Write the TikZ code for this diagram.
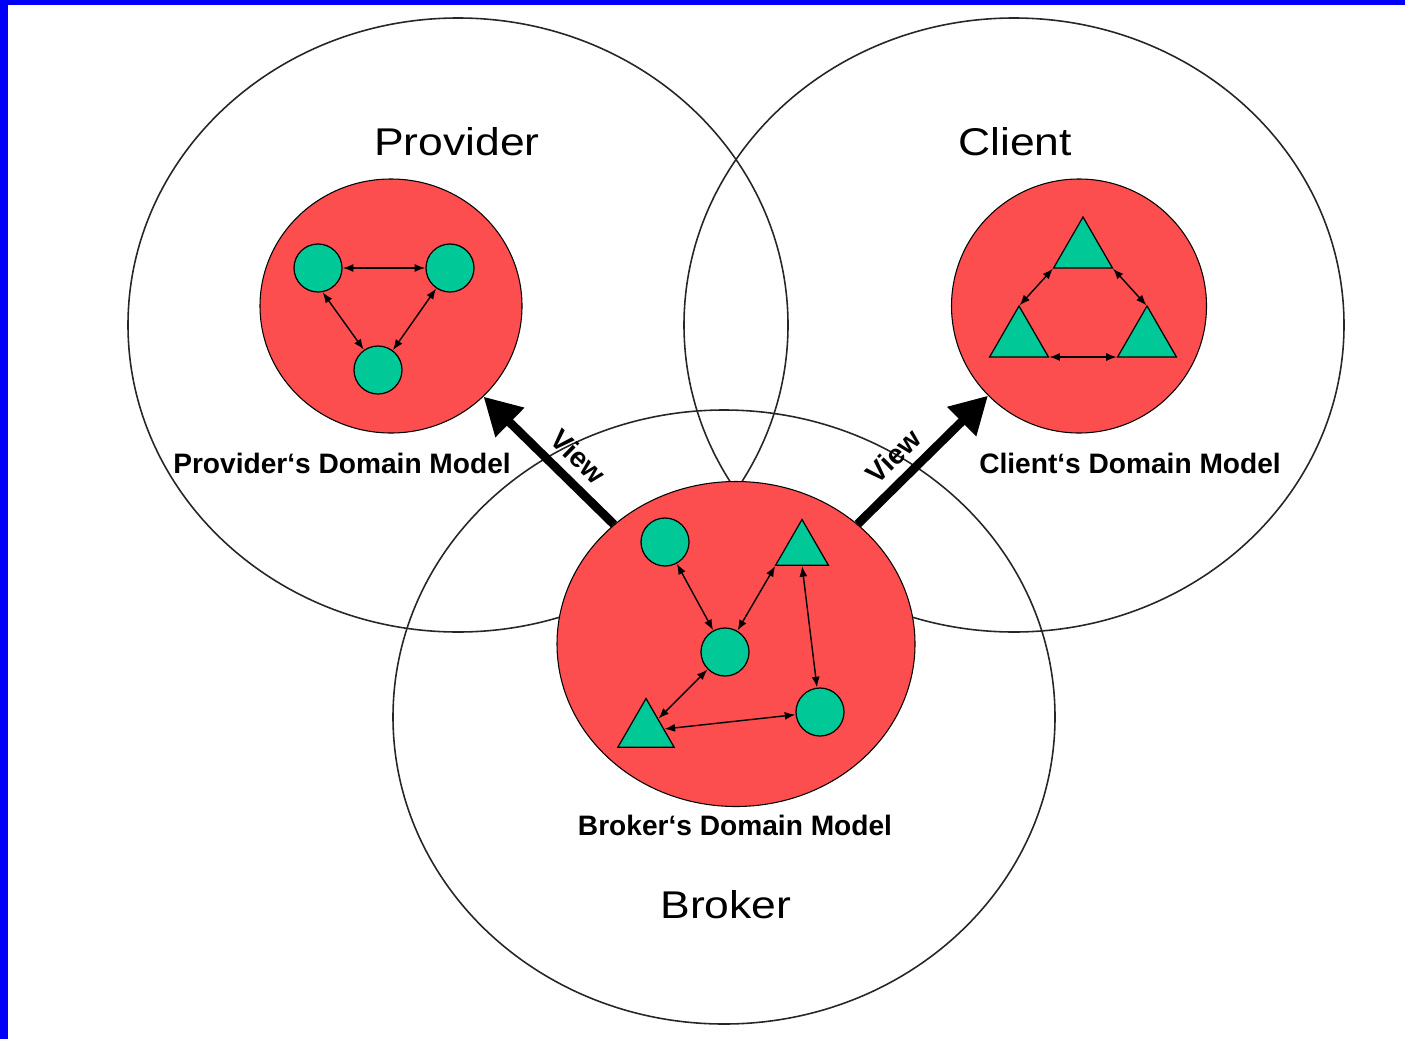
\documentclass[tikz,border=0pt]{standalone}
\usepackage{fontspec}
\setmainfont{Liberation Sans}
\usetikzlibrary{shapes.geometric}
\usetikzlibrary{arrows.meta}

\definecolor{DomRed}{RGB}{252,78,78}
\definecolor{ObjGreen}{RGB}{0,200,150}
\definecolor{FrameBlue}{RGB}{0,0,250}

\begin{document}
\begin{tikzpicture}[x=0.2mm,y=-0.2mm,
  dommodel/.style={ellipse,draw=black,line width=0.6pt,fill=DomRed,inner sep=0pt},
  obj/.style={circle,draw=black,line width=0.7pt,fill=ObjGreen,minimum size=0.96cm,inner sep=0pt,outer sep=0pt},
  tri/.style={regular polygon,regular polygon sides=3,draw=black,line width=0.7pt,fill=ObjGreen,inner sep=0pt,outer sep=0pt},
  rel/.style={{Latex[length=6pt,width=4.6pt]}-{Latex[length=6pt,width=4.6pt]},line width=0.8pt,shorten <=0.5pt,shorten >=0.5pt},
  viewarrow/.style={-{Triangle[length=0.74cm,width=0.78cm]},line width=5pt},
  vlabel/.style={font=\fontsize{16}{19}\selectfont\bfseries,inner sep=1pt},
  role/.style={font=\fontsize{22}{26}\selectfont,xscale=1.15,anchor=base},
  dlabel/.style={font=\fontsize{16}{19}\selectfont\bfseries,anchor=base}]

\useasboundingbox (0,0) rectangle (1405,1039);
\fill[FrameBlue] (0,0) rectangle (8,1039);
\fill[FrameBlue] (0,0) rectangle (1405,5);

% provider, client, broker
\draw[black!85,line width=0.9pt] (458,325) ellipse [x radius=330, y radius=307];
\draw[black!85,line width=0.9pt] (1014,325) ellipse [x radius=330, y radius=307];
\draw[black!85,line width=0.9pt] (724,717) ellipse [x radius=331, y radius=307];

\node[dommodel,minimum width=5.24cm,minimum height=5.08cm] (pdm) at (391,306) {};
\node[dommodel,minimum width=5.1cm,minimum height=5.08cm] (cdm) at (1079,306) {};
\node[dommodel,minimum width=7.16cm,minimum height=6.5cm] (bdm) at (736,644) {};

% provider's model
\node[obj] (p1) at (318,268) {};
\node[obj] (p2) at (450,268) {};
\node[obj] (p3) at (378,370) {};
\draw[rel] (p1) -- (p2);
\draw[rel] (p1.-80) -- (p3.125);
\draw[rel] (p2.236) -- (p3.53);

% client's model
\node[tri,minimum size=1.36cm] (c1) at (1083,251) {};
\node[tri,minimum size=1.36cm] (c2) at (1019,340) {};
\node[tri,minimum size=1.36cm] (c3) at (1147,340) {};
\draw[rel] (c1.corner 2) -- (c2.corner 1);
\draw[rel] (c1.corner 3) -- (c3.corner 1);
\draw[rel] (c2.corner 3) -- (c3.corner 2);

% broker's model
\node[obj] (b1) at (665,542) {};
\node[tri,minimum size=1.22cm] (b2) at (802,550) {};
\node[obj] (b3) at (725,652) {};
\node[tri,minimum size=1.3cm] (b4) at (646,731) {};
\node[obj] (b5) at (820,712) {};
\draw[rel] (b1) -- (b3);
\draw[rel] (b2.corner 2) -- (b3);
\draw[rel] (b2.south) -- (b5);
\draw[rel] (b4) -- (b3);
\draw[rel] (b4) -- (b5);

% views
\draw[viewarrow] (bdm) -- node[pos=0.4,sloped,above=4pt,vlabel] {View} (pdm);
\draw[viewarrow] (bdm) -- node[pos=0.4,sloped,above=4pt,vlabel] {View} (cdm);

\node[role] (prov) at (457,155) {Provider};
\node[role] (cli) at (1015,155) {Client};
\node[role] (brok) at (726,918) {Broker};
\node[dlabel] (pdmtext) at (342,473) {Provider‘s Domain Model};
\node[dlabel] (cdmtext) at (1130,473) {Client‘s Domain Model};
\node[dlabel] (bdmtext) at (735,835) {Broker‘s Domain Model};

\end{tikzpicture}
\end{document}
